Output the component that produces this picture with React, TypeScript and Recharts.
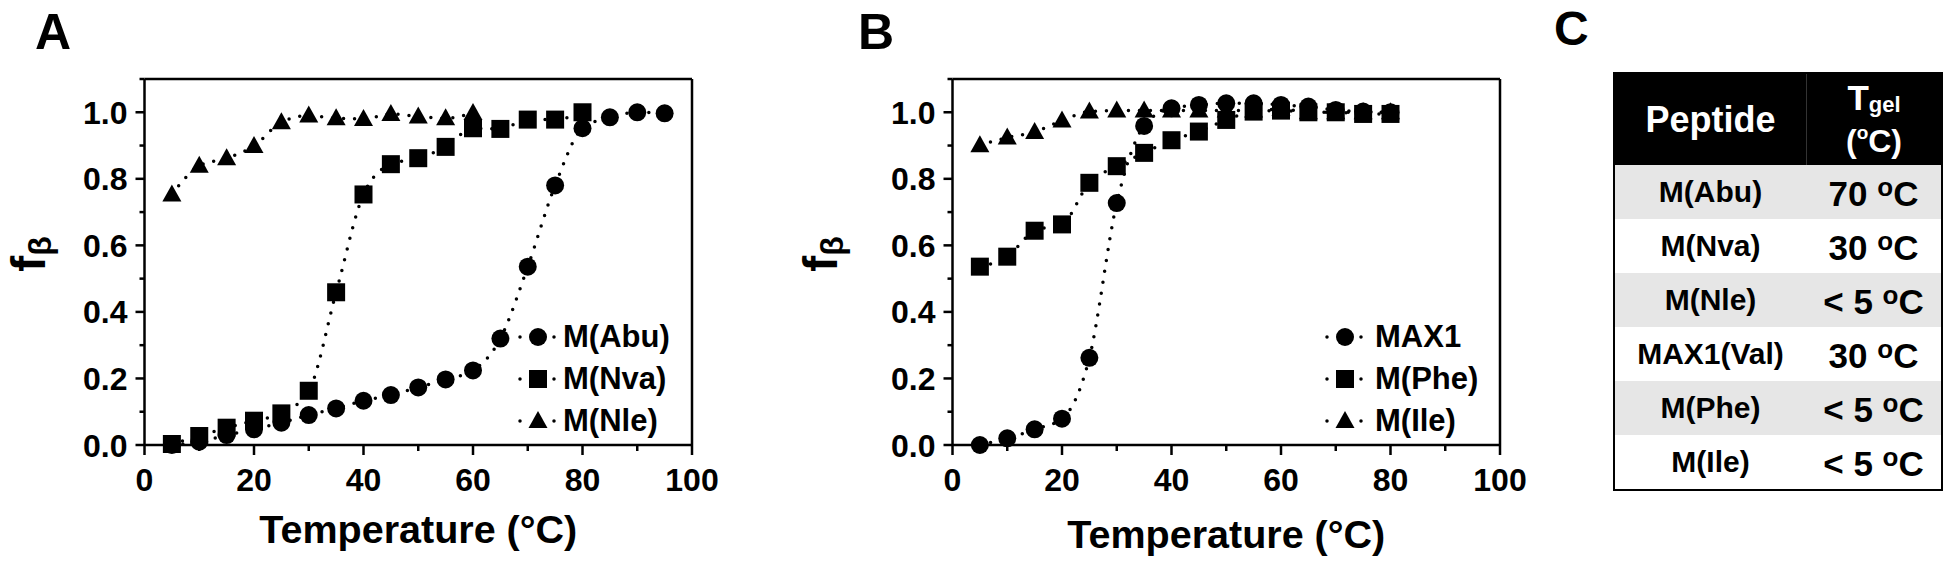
import React from "react";
import { LineChart, Line, XAxis, YAxis, ReferenceLine, Legend } from "recharts";

// ---- data ----
const tempsA = [5, 10, 15, 20, 25, 30, 35, 40, 45, 50, 55, 60, 65, 70, 75, 80, 85, 90, 95];
const abuValues = [0.0, 0.01, 0.03, 0.047, 0.067, 0.09, 0.11, 0.133, 0.15, 0.173, 0.197, 0.224, 0.32, 0.536, 0.78, 0.952, 0.985, 1.0, 0.997];
const nvaValues = [0.003, 0.027, 0.052, 0.073, 0.095, 0.163, 0.459, 0.753, 0.844, 0.862, 0.896, 0.952, 0.95, 0.978, 0.978, 1.0];
const nleValues = [0.753, 0.839, 0.862, 0.899, 0.97, 0.99, 0.982, 0.98, 0.995, 0.987, 0.982, 0.998];

const tempsB = [5, 10, 15, 20, 25, 30, 35, 40, 45, 50, 55, 60, 65, 70, 75, 80];
const max1Values = [0.0, 0.02, 0.047, 0.079, 0.262, 0.727, 0.959, 1.012, 1.022, 1.027, 1.027, 1.022, 1.017, 1.007, 1.002, 1.0];
const pheValues = [0.536, 0.566, 0.644, 0.663, 0.788, 0.838, 0.878, 0.916, 0.942, 0.977, 1.002, 1.005, 1.0, 1.0, 0.995, 0.995];
const ileValues = [0.901, 0.924, 0.941, 0.975, 1.002, 1.005, 1.005, 1.005, 1.005, 1.005, 1.005, 1.01, 1.0, 1.0, 1.0, 1.0];

const xTicks = [0, 10, 20, 30, 40, 50, 60, 70, 80, 90, 100];
const yTicks = [0, 0.1, 0.2, 0.3, 0.4, 0.5, 0.6, 0.7, 0.8, 0.9, 1.0, 1.1];

const peptideNames = ["M(Abu)", "M(Nva)", "M(Nle)", "MAX1(Val)", "M(Phe)", "M(Ile)"];
const gelTemps = ["70", "30", "< 5", "30", "< 5", "< 5"];

const FONT = "'Liberation Sans', Arial, Helvetica, sans-serif";
const TICK_SIZE = 10;

type Shape = "circle" | "square" | "triangle";

interface SeriesDef {
    key: string;
    name: string;
    shape: Shape;
}

const seriesA: SeriesDef[] = [
    { key: "abu", name: "M(Abu)", shape: "circle" },
    { key: "nva", name: "M(Nva)", shape: "square" },
    { key: "nle", name: "M(Nle)", shape: "triangle" },
];

const seriesB: SeriesDef[] = [
    { key: "max1", name: "MAX1", shape: "circle" },
    { key: "phe", name: "M(Phe)", shape: "square" },
    { key: "ile", name: "M(Ile)", shape: "triangle" },
];

const buildRows = (temps: number[], cols: Record<string, number[]>) =>
    temps.map((t, i) => {
        const row: Record<string, number | undefined> = { t };
        Object.keys(cols).forEach((k) => {
            row[k] = cols[k][i];
        });
        return row;
    });

const rowsA = buildRows(tempsA, { abu: abuValues, nva: nvaValues, nle: nleValues });
const rowsB = buildRows(tempsB, { max1: max1Values, phe: pheValues, ile: ileValues });

const drawMarker = (shape: Shape, cx: number, cy: number, key?: string) => {
    if (shape === "circle") return <circle key={key} cx={cx} cy={cy} r={9} fill="#000" />;
    if (shape === "square") return <rect key={key} x={cx - 9} y={cy - 9} width={18} height={18} fill="#000" />;
    return <polygon key={key} points={`${cx},${cy - 10} ${cx + 9.5},${cy + 7} ${cx - 9.5},${cy + 7}`} fill="#000" />;
};

const XTick = (props: any) => {
    const { x, y, payload } = props;
    const axisY = y - TICK_SIZE;
    const major = payload.value % 20 === 0;
    return (
        <g>
            <line x1={x} x2={x} y1={axisY} y2={axisY + (major ? 10 : 6)} stroke="#000" strokeWidth={2.5} />
            {major ? (
                <text x={x} y={axisY + 46} textAnchor="middle" fontFamily={FONT} fontWeight="bold" fontSize={32} fill="#000">
                    {payload.value}
                </text>
            ) : null}
        </g>
    );
};

const YTick = (props: any) => {
    const { x, y, payload } = props;
    const axisX = x + TICK_SIZE;
    const major = Math.round(payload.value * 10) % 2 === 0;
    return (
        <g>
            <line x1={axisX - (major ? 9 : 5)} x2={axisX} y1={y} y2={y} stroke="#000" strokeWidth={2.5} />
            {major ? (
                <text x={axisX - 17} y={y + 11.5} textAnchor="end" fontFamily={FONT} fontWeight="bold" fontSize={32} fill="#000">
                    {payload.value.toFixed(1)}
                </text>
            ) : null}
        </g>
    );
};

// legend keeps the series order of the figure (Recharts sorts by default)
const makeLegend = (series: SeriesDef[], gap: number) => () => (
    <div>
        {series.map((s) => (
            <div key={s.key} style={{ display: "flex", alignItems: "center", height: 42 }}>
                <svg width={44} height={42} style={{ display: "block" }}>
                    <line x1={4} x2={40} y1={21} y2={21} stroke="#000" strokeWidth={3.5} strokeDasharray="0 17" strokeLinecap="round" />
                    {drawMarker(s.shape, 22, 21)}
                </svg>
                <span style={{ marginLeft: gap, fontFamily: FONT, fontWeight: "bold", fontSize: 31, color: "#000", whiteSpace: "nowrap" }}>
                    {s.name}
                </span>
            </div>
        ))}
    </div>
);

interface PanelProps {
    left: number;
    padLeft: number;
    rows: Record<string, number | undefined>[];
    series: SeriesDef[];
    legendLeft: number;
    legendGap: number;
    xTitleDy: number;
}

const PLOT_TOP = 79;
const PLOT_BOTTOM = 445;

const Panel: React.FC<PanelProps> = ({ left, padLeft, rows, series, legendLeft, legendGap, xTitleDy }) => (
    <div style={{ position: "absolute", left, top: 0 }}>
        <LineChart width={760} height={566} data={rows} margin={{ top: PLOT_TOP, right: 68 - padLeft, bottom: 0, left: padLeft }}>
            <XAxis
                type="number"
                dataKey="t"
                domain={[0, 100]}
                ticks={xTicks}
                interval={0}
                tick={XTick}
                tickLine={false}
                tickSize={TICK_SIZE}
                tickMargin={0}
                axisLine={{ stroke: "#000", strokeWidth: 2.5 }}
                height={566 - PLOT_BOTTOM}
                label={(p: any) => {
                    const vb = p.viewBox || {};
                    const cx = (vb.x ?? padLeft + 144.5) + (vb.width ?? 547.5) / 2;
                    return (
                        <text x={cx} y={PLOT_BOTTOM + xTitleDy} textAnchor="middle" fontFamily={FONT} fontWeight="bold" fontSize={39.5} fill="#000">
                            Temperature (°C)
                        </text>
                    );
                }}
            />
            <YAxis
                type="number"
                domain={[0, 1.1]}
                ticks={yTicks}
                interval={0}
                tick={YTick}
                tickLine={false}
                tickSize={TICK_SIZE}
                tickMargin={0}
                axisLine={{ stroke: "#000", strokeWidth: 2.5 }}
                width={144.5}
            />
            <ReferenceLine y={1.1} stroke="#000" strokeWidth={2.5} />
            <ReferenceLine x={100} stroke="#000" strokeWidth={2.5} />
            {series.map((s) => (
                <Line
                    key={s.key}
                    dataKey={s.key}
                    name={s.name}
                    type="monotone"
                    stroke="#000"
                    strokeWidth={3.5}
                    strokeDasharray="0 11"
                    strokeLinecap="round"
                    isAnimationActive={false}
                    activeDot={false}
                    dot={(p: any) =>
                        p.cy == null || p.value == null ? (
                            <g key={`${s.key}-${p.index}`} />
                        ) : (
                            drawMarker(s.shape, p.cx, p.cy, `${s.key}-${p.index}`)
                        )
                    }
                />
            ))}
            <Legend
                layout="horizontal"
                verticalAlign="middle"
                align="center"
                content={makeLegend(series, legendGap)}
                wrapperStyle={{ left: legendLeft, top: 316, width: "auto" }}
            />
        </LineChart>
    </div>
);

// rotated y-axis title, centred on (cx, cy)
const YTitle: React.FC<{ cx: number; cy: number }> = ({ cx, cy }) => (
    <div
        style={{
            position: "absolute",
            left: cx - 30,
            top: cy - 25,
            width: 60,
            height: 50,
            lineHeight: "50px",
            textAlign: "center",
            transform: "rotate(-90deg)",
            transformOrigin: "50% 50%",
            fontFamily: FONT,
            fontWeight: "bold",
            fontSize: 48,
            color: "#000",
            whiteSpace: "nowrap",
        }}
    >
        f<sub style={{ fontSize: 32, verticalAlign: -6, lineHeight: 1 }}>β</sub>
    </div>
);

const cellCenter: React.CSSProperties = {
    display: "flex",
    alignItems: "center",
    justifyContent: "center",
    lineHeight: 1,
    whiteSpace: "nowrap",
};

const GelTable = () => (
    <div
        style={{
            position: "absolute",
            left: 1613,
            top: 72,
            width: 330,
            border: "2px solid #000",
            boxSizing: "border-box",
            fontFamily: FONT,
            fontWeight: "bold",
            color: "#000",
        }}
    >
        <div style={{ display: "flex", height: 91, background: "#000", color: "#fff" }}>
            <div style={{ ...cellCenter, width: 191, borderRight: "1px solid #333", fontSize: 36 }}>Peptide</div>
            <div style={{ flex: 1, position: "relative" }}>
                <div style={{ position: "absolute", left: 0, right: 0, top: 6, textAlign: "center", fontSize: 35, lineHeight: 1 }}>
                    T<span style={{ fontSize: 22, verticalAlign: -2 }}>gel</span>
                </div>
                <div style={{ position: "absolute", left: 0, right: 0, top: 49, textAlign: "center", fontSize: 32, lineHeight: 1 }}>
                    (<sup style={{ fontSize: 19, verticalAlign: 13, lineHeight: 1 }}>o</sup>C)
                </div>
            </div>
        </div>
        {peptideNames.map((name, i) => (
            <div key={name} style={{ display: "flex", height: 54, background: i % 2 === 0 ? "#e6e6e6" : "#fff" }}>
                <div style={{ ...cellCenter, width: 191, fontSize: 30 }}>{name}</div>
                <div style={{ ...cellCenter, flex: 1, fontSize: 35 }}>
                    <span>
                        {gelTemps[i]}{" "}
                        <sup style={{ fontSize: 26, verticalAlign: 10, lineHeight: 1 }}>o</sup>C
                    </span>
                </div>
            </div>
        ))}
    </div>
);

const letterStyle: React.CSSProperties = {
    position: "absolute",
    fontWeight: "bold",
    lineHeight: 1,
    color: "#000",
    fontFamily: FONT,
};

const App: React.FC = () => (
    <div style={{ position: "absolute", left: 0, top: 0, width: 1950, height: 566, background: "#fff", overflow: "hidden" }}>
        <div style={{ ...letterStyle, left: 35, top: 7, fontSize: 50 }}>A</div>
        <div style={{ ...letterStyle, left: 858, top: 7, fontSize: 50 }}>B</div>
        <div style={{ ...letterStyle, left: 1554, top: 5, fontSize: 48 }}>C</div>

        <Panel left={0} padLeft={0} rows={rowsA} series={seriesA} legendLeft={516} legendGap={3} xTitleDy={98} />
        <Panel left={780} padLeft={28} rows={rowsB} series={seriesB} legendLeft={543} legendGap={8} xTitleDy={103} />

        <YTitle cx={29} cy={254} />
        <YTitle cx={821} cy={254} />

        <GelTable />
    </div>
);

export default App;
